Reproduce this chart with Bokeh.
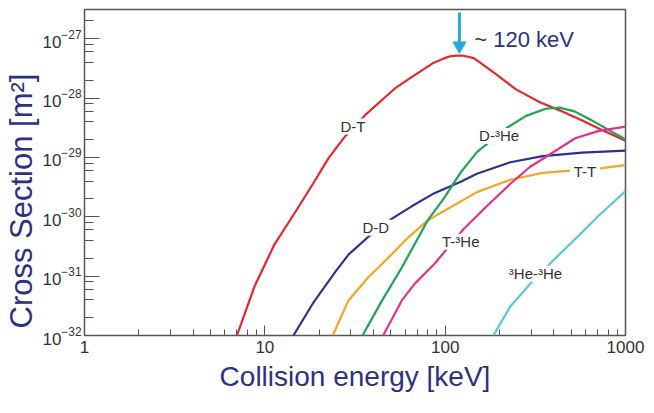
from bokeh.plotting import figure
from bokeh.models import LogTicker, LogTickFormatter, NumeralTickFormatter, Title
from bokeh.core.properties import value
from bokeh.embed import file_html
from bokeh.resources import INLINE

# ---------------- data ----------------
dt_energy = [7.0, 8.8, 11.3, 15.0, 18.5, 22.7, 28.0, 36.1, 44.0, 52.6, 63.0, 74.0, 86.0,
             99.0, 108.0, 116.0, 124.0, 132.0, 144.0, 157.0, 192.0, 247.0, 335.0, 431.0,
             575.0, 740.0, 1000.0]
dt_sigma = [1.0e-32, 6.9e-32, 3.4e-31, 1.3e-30, 3.6e-30, 1.0e-29, 2.3e-29, 5.2e-29, 8.9e-29,
            1.45e-28, 2.1e-28, 2.9e-28, 3.9e-28, 4.7e-28, 5.1e-28, 5.2e-28, 5.2e-28, 5.0e-28,
            4.7e-28, 3.9e-28, 2.5e-28, 1.4e-28, 8.5e-29, 6.2e-29, 4.2e-29, 2.9e-29, 1.9e-29]

dd_energy = [14.4, 18.5, 24.7, 29.1, 37.5, 50.7, 65.2, 87.1, 122.0, 150.0, 230.0,
             347.0, 575.0, 1000.0]
dd_sigma = [1.0e-32, 3.5e-32, 1.2e-31, 2.3e-31, 4.6e-31, 9.3e-31, 1.5e-30, 2.5e-30,
            3.9e-30, 5.3e-30, 8.3e-30, 1.05e-29, 1.2e-29, 1.3e-29]

tt_energy = [23.8, 29.1, 37.5, 46.4, 62.0, 79.8, 103.0, 150.0, 230.0, 347.0, 740.0, 1000.0]
tt_sigma = [1.0e-32, 3.9e-32, 9.6e-32, 1.8e-31, 4.4e-31, 8.6e-31, 1.35e-30, 2.6e-30,
            4.2e-30, 5.5e-30, 6.6e-30, 7.4e-30]

dhe_energy = [34.8, 44.7, 57.5, 79.8, 99.0, 122.0, 150.0, 218.0, 281.0, 361.0, 431.0,
              526.0, 651.0, 807.0, 1000.0]
dhe_sigma = [1.0e-32, 3.9e-32, 1.4e-31, 8.6e-31, 2.1e-30, 5.6e-30, 1.23e-29, 3.1e-29,
             5.0e-29, 6.6e-29, 6.9e-29, 5.9e-29, 4.2e-29, 2.9e-29, 2.0e-29]

the_energy = [45.3, 57.5, 67.7, 87.1, 127.0, 170.0, 230.0, 295.0, 380.0, 526.0, 712.0, 1000.0]
the_sigma = [1.0e-32, 3.9e-32, 7.4e-32, 1.6e-31, 6.3e-31, 1.5e-30, 3.6e-30, 6.9e-30,
             1.12e-29, 2.1e-29, 2.8e-29, 3.3e-29]

hehe_energy = [185.0, 230.0, 306.0, 394.0, 554.0, 712.0, 1000.0]
hehe_sigma = [1.0e-32, 3.1e-32, 8.3e-32, 1.8e-31, 4.9e-31, 1.05e-30, 2.7e-30]

label_text = ["D-T", "D-D", "D-³He", "T-T", "T-³He", "³He-³He"]
label_energy = [30.8, 41.2, 199.0, 596.0, 122.0, 317.0]
label_sigma = [3.3e-29, 6.5e-31, 2.3e-29, 5.8e-30, 3.8e-31, 1.1e-31]

peak_energy = 120.0
arrow_top = 2.75e-27
arrow_head = 7.6e-28
peak_text = "~ 120 keV"
peak_text_energy = 145.0
peak_text_sigma = 9.6e-28

x_min, x_max = 1.0, 1000.0
y_min, y_max = 1.0e-32, 3.1e-27

x_title = "Collision energy [keV]"
y_title = "Cross Section [m²]"

# ---------------- styling ----------------
NAVY_TEXT = "#2d3184"
colors = {"D-T": "#e8262b", "D-D": "#2e3192", "T-T": "#f5a623",
          "D-³He": "#1ea552", "T-³He": "#e0338c", "³He-³He": "#5cc6dc"}
ARROW = "#29a9e0"
FRAME = "#555555"
label_box_width = [30, 32, 44, 30, 40, 54]   # white boxes behind curve labels (px)

p = figure(width=646, height=405, x_axis_type="log", y_axis_type="log",
           x_range=(x_min, x_max), y_range=(y_min, y_max),
           output_backend="svg", toolbar_location=None,
           min_border_left=77, min_border_right=21, min_border_top=9, min_border_bottom=70)
p.background_fill_color = None
p.border_fill_color = None
p.grid.visible = False
p.outline_line_color = FRAME
p.outline_line_width = 1.5

# bottom axis
xa = p.xaxis[0]
xa.ticker = LogTicker(num_minor_ticks=10)
xa.formatter = NumeralTickFormatter(format="0")
xa.axis_label = x_title
xa.axis_label_text_font_size = "28px"
xa.axis_label_text_font_style = "normal"
xa.axis_label_text_color = NAVY_TEXT
xa.axis_label_standoff = 5
xa.major_label_text_font_size = "17px"
xa.major_label_text_color = "#333333"
xa.major_label_standoff = 5

# left axis
ya = p.yaxis[0]
ya.ticker = LogTicker(num_minor_ticks=5)
ya.formatter = LogTickFormatter()
ya.major_label_text_font_size = "17px"
ya.major_label_text_color = "#333333"
ya.major_label_standoff = 3

for ax in (xa, ya):
    ax.axis_line_color = None
    ax.major_tick_out = 0
    ax.minor_tick_out = 0
    ax.major_tick_line_color = FRAME
    ax.minor_tick_line_color = FRAME
xa.major_tick_in = 10
xa.minor_tick_in = 6
ya.major_tick_in = 15
ya.minor_tick_in = 9

# y title on the left, anchored near the bottom of the frame
p.add_layout(Title(text=y_title, align="left", offset=7, standoff=2,
                   text_font_size="31px", text_font_style="normal",
                   text_color=NAVY_TEXT), "left")

# curves
series = [
    ("D-T", dt_energy, dt_sigma),
    ("D-D", dd_energy, dd_sigma),
    ("T-T", tt_energy, tt_sigma),
    ("D-³He", dhe_energy, dhe_sigma),
    ("T-³He", the_energy, the_sigma),
    ("³He-³He", hehe_energy, hehe_sigma),
]
for name, xs, ys in series:
    p.line(xs, ys, line_color=colors[name], line_width=2.2, line_join="round")

# curve labels: white box hides the line beneath, as in the reference
p.rect(x=label_energy, y=label_sigma, width=label_box_width, height=16,
       width_units="screen", height_units="screen",
       fill_color="white", line_color=None)
p.text(x=label_energy, y=label_sigma, text=label_text,
       text_align="center", text_baseline="middle",
       text_font_size=value("15px"), text_color="#333333")

# peak marker: shaft and downward head
p.segment(x0=[peak_energy], y0=[arrow_top], x1=[peak_energy], y1=[arrow_head],
          line_color=ARROW, line_width=3)
p.scatter(x=[peak_energy], y=[arrow_head], marker="inverted_triangle", size=13,
          fill_color=ARROW, line_color=ARROW)
p.text(x=[peak_text_energy], y=[peak_text_sigma], text=[peak_text],
       text_align="left", text_baseline="middle",
       text_font_size=value("22px"), text_color=NAVY_TEXT)

open("out.html", "w").write(file_html(p, INLINE))
